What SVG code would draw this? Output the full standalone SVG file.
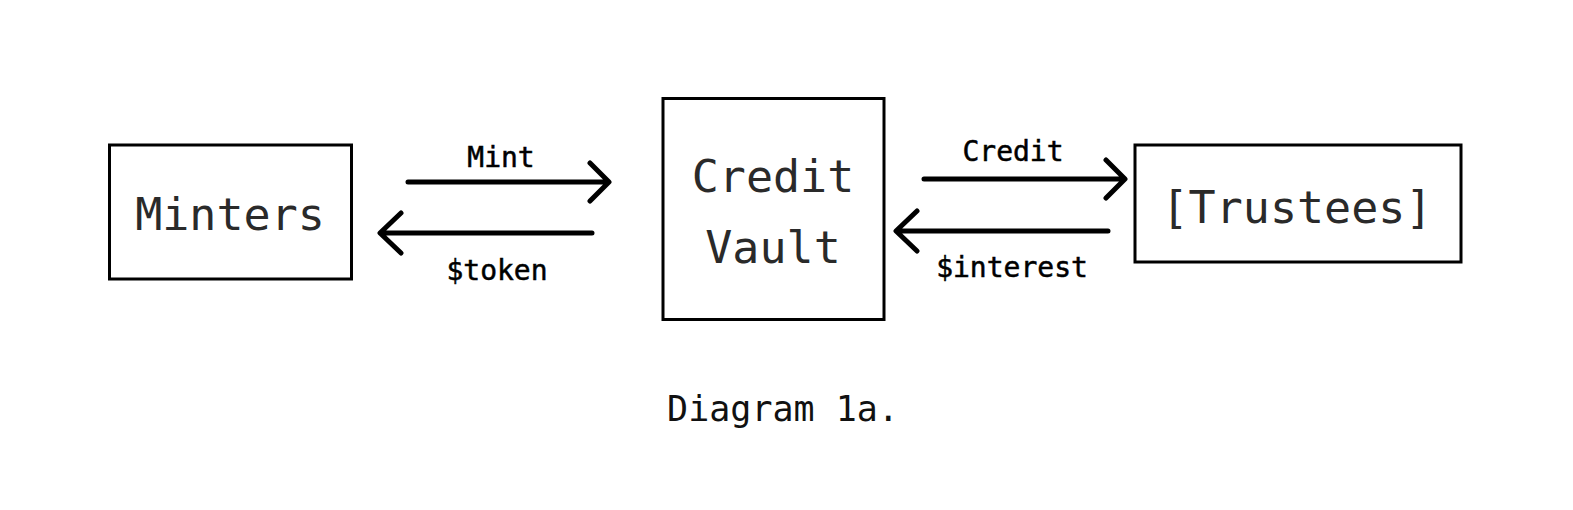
<svg xmlns="http://www.w3.org/2000/svg" width="1573" height="510" viewBox="0 0 1573 510">
<style>
.box{fill:#fff;stroke:#000;stroke-width:3}
.nt{font-family:"DejaVu Sans Mono","Liberation Mono",monospace;font-size:45px;fill:#2a2a2a;text-anchor:middle}
.lbl{font-family:"DejaVu Sans Mono","Liberation Mono",monospace;font-size:28px;fill:#000;stroke:#000;stroke-width:0.5;text-anchor:middle}
.ln{fill:none;stroke:#000;stroke-width:5;stroke-linecap:round;stroke-linejoin:round}
.cap{font-family:"DejaVu Sans Mono","Liberation Mono",monospace;font-size:35px;fill:#111;text-anchor:middle}
</style>
<rect width="1573" height="510" fill="#fff"/>
<g id="minters">
<rect class="box" x="109.5" y="145" width="242" height="134"/>
<text class="nt" x="230" y="230">Minters</text>
</g>
<g id="credit-vault">
<rect class="box" x="663" y="98.5" width="221" height="221"/>
<text class="nt" x="773" y="192">Credit</text>
<text class="nt" x="773" y="263">Vault</text>
</g>
<g id="trustees">
<rect class="box" x="1135" y="145" width="326" height="117"/>
<text class="nt" x="1297" y="223">[Trustees]</text>
</g>
<g id="connectors">
<g id="mint">
<path class="ln" d="M408 182 H608 M590 163 L609 182 L590 201"/>
<text class="lbl" x="501" y="167">Mint</text>
</g>
<g id="token">
<path class="ln" d="M592 233 H381 M401 213 L380 233 L401 253"/>
<text class="lbl" x="497" y="280">$token</text>
</g>
<g id="credit">
<path class="ln" d="M924 179 H1124 M1106 160 L1125 179 L1106 198"/>
<text class="lbl" x="1013" y="161">Credit</text>
</g>
<g id="interest">
<path class="ln" d="M1108 231 H897 M917 211 L896 231 L917 251"/>
<text class="lbl" x="1012" y="277">$interest</text>
</g>
</g>
<text class="cap" x="783" y="421">Diagram 1a.</text>
</svg>
